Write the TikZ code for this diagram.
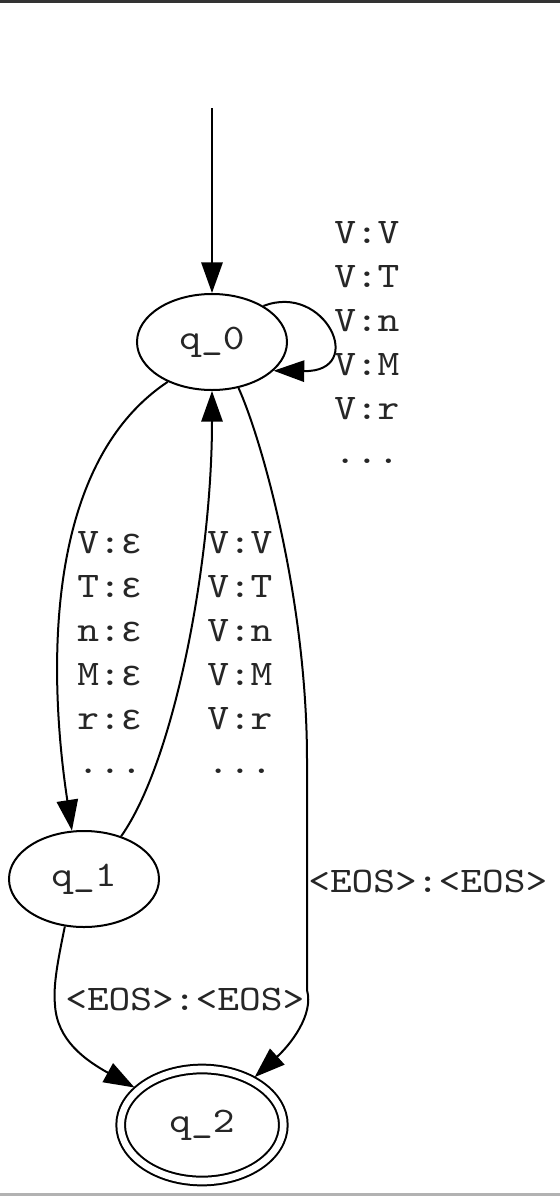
\documentclass[tikz,border=0pt]{standalone}
\usepackage{fontspec}
\usepackage{tikz}
\usetikzlibrary{shapes.geometric, arrows.meta}
\newfontfamily\fstmono{lmmono10-regular.otf}[FakeStretch=1.15]
\newfontfamily\fstgreek{Liberation Mono}

\begin{document}
\begin{tikzpicture}[
    x=0.75pt, y=-0.75pt,
    state/.style={
        ellipse, draw, line width=1.5pt, minimum width=112.5pt, minimum height=72pt,
        inner sep=0pt, font=\fstmono\fontsize{27}{33}\selectfont, text=black!85
    },
    final/.style={
        state, double, double distance=5pt,
        minimum width=122pt, minimum height=84pt, outer sep=3.4pt
    },
    lbl/.style={
        anchor=base west, inner sep=0pt, align=left,
        font=\fstmono\fontsize{27}{33}\selectfont, text=black!85
    },
    arr/.style={-{Triangle[length=23pt, width=16pt]}, line width=1.5pt},
]

% Frame of the screenshot
\useasboundingbox (0,0) rectangle (560,1196);
\fill[black!80] (0,0) rectangle (560,2.5);
\fill[black!30] (0,1193) rectangle (560,1196);

% States
\node[state] (q0) at (212,342)  {q\_0};
\node[state] (q1) at (84,879)   {q\_1};
\node[final] (q2) at (202,1125) {q\_2};
\coordinate (start) at (212,108);

% Transitions
\draw[arr] (start) -- (q0);
\draw[arr] (q0.35) .. controls (325,282) and (368,372) .. (q0.-25);
\draw[arr] (q0.-138) .. controls (35,470) and (52,700) .. (q1.104);
\draw[arr] (q1.49) .. controls (175,760) and (212,560) .. (q0.south);
\draw[arr] (q0.-60) .. controls (262,440) and (307,600) .. (307,760)
    -- (307,990) .. controls (314,1015) and (290,1045) .. (q2);
\draw[arr] (q1.-112) .. controls (58,960) and (53,985) .. (55,1005)
    .. controls (57,1040) and (85,1060) .. (q2);

% Labels (base = baseline of the last row)
\newcommand\eps{{\fstgreek ε}}
\node[lbl] (loop label) at (334,463) {V:V\\V:T\\V:n\\V:M\\V:r\\...};
\node[lbl] (drop label) at (77,773)  {V:\eps\\T:\eps\\n:\eps\\M:\eps\\r:\eps\\...};
\node[lbl] (back label) at (207,773) {V:V\\V:T\\V:n\\V:M\\V:r\\...};
\node[lbl] (eos label)  at (308,892) {<EOS>:<EOS>};
\node[lbl] (end label)  at (65,1010) {<EOS>:<EOS>};

\end{tikzpicture}
\end{document}
